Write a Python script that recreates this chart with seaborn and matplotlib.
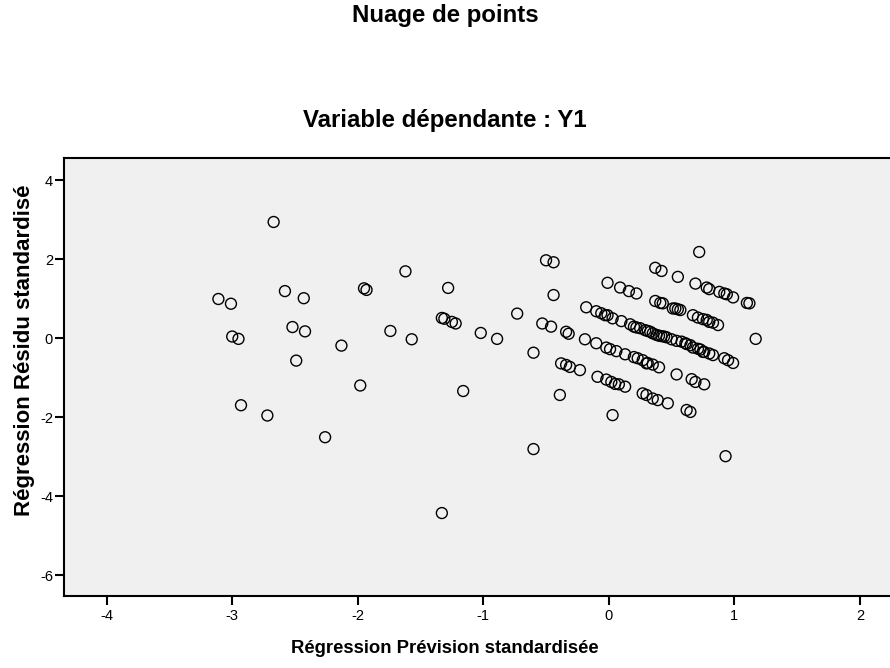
import matplotlib
matplotlib.use("Agg")
import matplotlib.pyplot as plt
import seaborn as sns
import pandas as pd

# Standardized predicted values (x) and standardized residuals (y)
pred = [
    -2.67, -3.11, -3.01, -2.58, -2.43, -3.00, -2.95, -2.52, -2.42, -2.49,
    -2.93, -2.72, -2.26, -2.13, -1.62, -1.95, -1.93, -1.98, -1.74, -1.57,
    -1.28, -1.33, -1.31, -1.25, -1.22, -1.02, -0.89, -1.16, -1.33, -0.60,
    -0.73, -0.60, -0.53, -0.46, -0.50, -0.44, -0.44, -0.39, -0.34, -0.32,
    -0.38, -0.34, -0.31, -0.23, -0.19, -0.18, -0.10, -0.06, -0.03, -0.01,
    0.03,
    # central band
    0.10, 0.17, 0.20, 0.25, 0.29, 0.33, 0.35, 0.38, 0.42, 0.46, 0.50, 0.54,
    0.58, 0.65, 0.67, 0.71, 0.75, 0.80, 0.83, 0.92, 0.95, 0.99,
    0.22, 0.31, 0.40, 0.44, 0.61, 0.62, 0.73, 0.76,
    # lower band 0
    -0.10, -0.02, 0.01, 0.06, 0.13, 0.20, 0.23, 0.27, 0.31, 0.35, 0.40,
    0.30, 0.54, 0.66, 0.69, 0.76,
    # band -1
    -0.09, -0.02, 0.02, 0.05, 0.08, 0.13, 0.27, 0.30, 0.35, 0.39, 0.47,
    0.62, 0.65, 0.03, 0.93,
    # band +1
    -0.01, 0.09, 0.16, 0.22, 0.37, 0.41, 0.43, 0.53, 0.55, 0.57, 0.51,
    0.67, 0.71, 0.75, 0.78, 0.80, 0.83, 0.87,
    # band +2
    0.72, 0.37, 0.42, 0.55, 0.69, 0.78, 0.80, 0.88, 0.92, 0.94, 0.99,
    1.10, 1.12,
    1.17,
]
resid = [
    2.94, 0.99, 0.87, 1.19, 1.01, 0.04, -0.02, 0.28, 0.17, -0.57,
    -1.70, -1.96, -2.51, -0.19, 1.69, 1.26, 1.22, -1.20, 0.18, -0.03,
    1.27, 0.51, 0.49, 0.41, 0.37, 0.13, -0.02, -1.34, -4.43, -2.81,
    0.62, -0.37, 0.37, 0.29, 1.97, 1.92, 1.09, -1.44, 0.16, 0.11,
    -0.64, -0.68, -0.73, -0.81, -0.03, 0.78, 0.68, 0.63, 0.58, 0.58,
    0.50,
    0.43, 0.35, 0.29, 0.25, 0.20, 0.16, 0.12, 0.08, 0.05, 0.02, -0.03, -0.07,
    -0.09, -0.18, -0.24, -0.27, -0.35, -0.39, -0.43, -0.51, -0.56, -0.63,
    0.27, 0.18, 0.06, 0.04, -0.13, -0.15, -0.29, -0.35,
    -0.13, -0.24, -0.28, -0.33, -0.41, -0.48, -0.51, -0.56, -0.63, -0.67, -0.74,
    -0.64, -0.92, -1.04, -1.11, -1.17,
    -0.98, -1.05, -1.11, -1.16, -1.17, -1.23, -1.40, -1.44, -1.53, -1.57, -1.65,
    -1.82, -1.87, -1.95, -2.99,
    1.40, 1.28, 1.19, 1.13, 0.94, 0.89, 0.88, 0.75, 0.73, 0.71, 0.75,
    0.58, 0.52, 0.48, 0.46, 0.41, 0.39, 0.33,
    2.18, 1.78, 1.70, 1.55, 1.38, 1.28, 1.24, 1.17, 1.13, 1.11, 1.03,
    0.89, 0.88,
    -0.02,
]

x_ticks = [-4, -3, -2, -1, 0, 1, 2]
y_ticks = [4, 2, 0, -2, -4, -6]

df = pd.DataFrame({"pred": pred, "resid": resid})

sns.set_style("white")
plt.rcParams["font.family"] = ["Liberation Sans", "DejaVu Sans"]
plt.rcParams["text.color"] = "black"
plt.rcParams["axes.labelcolor"] = "black"
plt.rcParams["xtick.color"] = "black"
plt.rcParams["ytick.color"] = "black"

fig = plt.figure(figsize=(8.90, 6.68), dpi=100)
ax = fig.add_axes([64 / 890, (668 - 596) / 668, (890 - 64) / 890, (596 - 158) / 668])
ax.set_facecolor("#F0F0F0")

sns.scatterplot(data=df, x="pred", y="resid", ax=ax, marker="o", s=62,
                facecolor="none", edgecolor="black", linewidth=1.0, legend=False)

ax.set_xlim(-4.34, 2.24)
ax.set_ylim(-6.53, 4.56)
ax.set_xticks(x_ticks)
ax.set_yticks(y_ticks)
ax.set_xticklabels([str(t) for t in x_ticks])
ax.set_yticklabels([str(t) for t in y_ticks])
ax.tick_params(axis="both", direction="out", length=6.5, width=1.5, color="black",
               labelsize=10.5, bottom=True, left=True)
ax.tick_params(axis="x", pad=3)
ax.tick_params(axis="y", pad=1.5)
for side in ["left", "bottom", "top"]:
    ax.spines[side].set_visible(True)
    ax.spines[side].set_color("black")
    ax.spines[side].set_linewidth(1.5)
ax.spines["right"].set_visible(False)

ax.set_xlabel("Régression Prévision standardisée", fontsize=13.3, fontweight="bold")
ax.set_ylabel("Régression Résidu standardisé", fontsize=16, fontweight="bold")
ax.xaxis.set_label_coords((445 - 64) / 826, (596 - 640) / 438)
ax.yaxis.set_label_coords((35 - 64) / 826, (596 - 350) / 438)

fig.text(0.5, 1 - 15.5 / 668, "Nuage de points", ha="center", va="center",
         fontsize=17.3, fontweight="bold")
fig.text(0.5, 1 - 121 / 668, "Variable dépendante : Y1", ha="center", va="center",
         fontsize=17.3, fontweight="bold")

fig.savefig("out.png", dpi=100)
